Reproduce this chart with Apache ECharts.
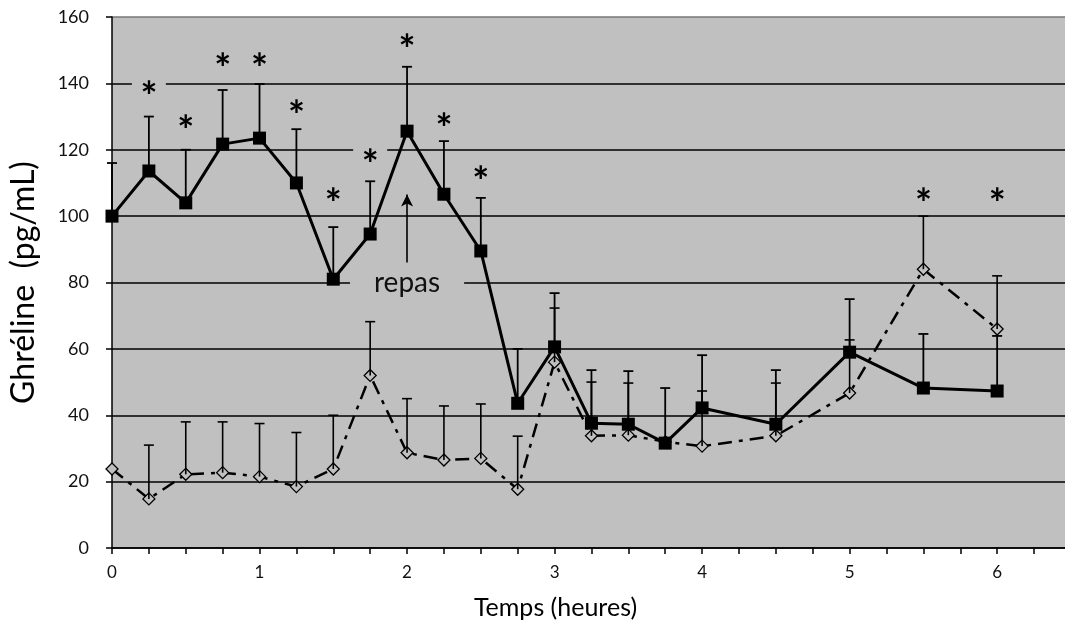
<!DOCTYPE html>
<html>
<head>
<meta charset="utf-8">
<script src="https://cdn.jsdelivr.net/npm/echarts@6/dist/echarts.min.js"></script>
<style>
    html, body { margin: 0; padding: 0; background: #fff; }
    #chart { width: 1065px; height: 630px; }
</style>
</head>
<body>
<div id="chart"></div>
<script>
// --- données ---
const times = [0, 0.25, 0.5, 0.75, 1, 1.25, 1.5, 1.75, 2, 2.25, 2.5, 2.75, 3, 3.25, 3.5, 3.75, 4, 4.5, 5, 5.5, 6];

// courbe pleine (carrés noirs)
const solidValues = [100, 113.6, 104, 121.7, 123.5, 110, 81, 94.6, 125.6, 106.6, 89.5, 43.6, 60.6, 37.6, 37.3, 31.6, 42.2, 37.3, 59, 48.2, 47.3];
const solidErrTop = [116, 130, 120, 138, 139.8, 126.2, 96.7, 110.5, 145, 122.6, 105.5, 60, 76.8, 53.6, 53.3, 48.2, 58.1, 53.6, 75, 64.5, 63.9];

// courbe tiret-point (losanges vides)
const dashValues = [23.8, 14.8, 22.2, 22.7, 21.5, 18.5, 23.8, 52, 28.7, 26.5, 27, 17.7, 56, 33.8, 34, 32, 30.7, 33.8, 46.7, 84, 66];
const dashErrTop = [null, 31, 38, 38, 37.5, 34.8, 40, 68.2, 45, 42.8, 43.4, 33.7, 72.3, 50, 49.7, null, 47.3, 49.7, 62.7, 100, 82];

// astérisques (significativité)
const starTimes = [0.25, 0.5, 0.75, 1, 1.25, 1.5, 1.75, 2, 2.25, 2.5, 5.5, 6];
const starValues = [138.5, 128.3, 147, 147, 133, 106.3, 118, 152.7, 129, 113, 106.3, 106.3];

// repas
const mealTime = 2;
const mealLabelValue = 80;
const mealArrow = [86, 106.5];

const yTicks = [0, 20, 40, 60, 80, 100, 120, 140, 160];
const xLabels = [0, 1, 2, 3, 4, 5, 6];

const plotGrey = '#c0c0c0';
const fontName = 'Lato';

function pairs(xs, ys) {
    return xs.map((x, i) => [x, ys[i]]).filter(p => p[1] != null);
}

function errData(xs, ys, tops) {
    return xs.map((x, i) => [x, ys[i], tops[i]]).filter(p => p[2] != null);
}

function renderErr(width) {
    return function (params, api) {
        const base = api.coord([api.value(0), api.value(1)]);
        const top = api.coord([api.value(0), api.value(2)]);
        const style = { stroke: '#000', lineWidth: width };
        return {
            type: 'group',
            children: [
                { type: 'line', shape: { x1: base[0], y1: base[1], x2: top[0], y2: top[1] }, style: style },
                { type: 'line', shape: { x1: top[0] - 5, y1: top[1], x2: top[0] + 5, y2: top[1] }, style: style }
            ]
        };
    };
}

const chart = echarts.init(document.getElementById('chart'));

const option = {
    animation: false,
    textStyle: { fontFamily: fontName },
    grid: {
        left: 112, right: 0, top: 17, bottom: 82,
        show: true, backgroundColor: plotGrey, borderWidth: 0
    },
    xAxis: {
        type: 'value',
        min: 0,
        max: 6.46,
        interval: 0.25,
        name: 'Temps (heures)',
        nameLocation: 'middle',
        nameGap: 47,
        nameTextStyle: { fontSize: 25, color: '#000', fontFamily: fontName, padding: [0, 66, 0, 0] },
        axisLine: { onZero: false, lineStyle: { color: '#000', width: 1.5 } },
        axisTick: { length: 6, lineStyle: { color: '#000', width: 1.5 } },
        axisLabel: {
            fontSize: 17, color: '#111', margin: 16, showMaxLabel: false,
            formatter: v => xLabels.includes(v) ? String(v) : ''
        },
        splitLine: { show: false }
    },
    yAxis: {
        type: 'value',
        min: yTicks[0],
        max: yTicks[yTicks.length - 1],
        interval: 20,
        name: 'Ghréline  (pg/mL)',
        nameLocation: 'middle',
        nameGap: 72,
        nameTextStyle: { fontSize: 32, color: '#000', fontFamily: fontName },
        axisLine: { show: true, lineStyle: { color: '#000', width: 1.5 } },
        axisTick: { show: true, length: 6, lineStyle: { color: '#000', width: 1.5 } },
        axisLabel: { fontSize: 18, color: '#111', margin: 23 },
        splitLine: {
            show: true,
            lineStyle: {
                color: ['#000', '#000', '#000', '#000', '#000', '#000', '#000', '#000', '#777'],
                width: 1.6
            }
        }
    },
    series: [
        {
            name: 'pointillé',
            type: 'line',
            data: pairs(times, dashValues),
            symbol: 'diamond',
            symbolSize: 12,
            itemStyle: { color: plotGrey, borderColor: '#000', borderWidth: 1.3 },
            lineStyle: { color: '#000', width: 2.5, type: [14, 7, 4, 7] },
            z: 2
        },
        {
            name: 'err pointillé',
            type: 'custom',
            data: errData(times, dashValues, dashErrTop),
            renderItem: renderErr(1.6),
            z: 3
        },
        {
            name: 'err plein',
            type: 'custom',
            data: errData(times, solidValues, solidErrTop),
            renderItem: renderErr(1.8),
            z: 3
        },
        {
            name: 'plein',
            type: 'line',
            data: pairs(times, solidValues),
            symbol: 'rect',
            symbolSize: 13,
            itemStyle: { color: '#000' },
            lineStyle: { color: '#000', width: 3 },
            z: 4,
            markLine: {
                silent: true,
                symbol: ['none', 'arrow'],
                symbolSize: [9, 12],
                label: { show: false },
                lineStyle: { color: '#000', width: 1.6, type: 'solid' },
                data: [[{ coord: [mealTime, mealArrow[0]] }, { coord: [mealTime, mealArrow[1]] }]]
            }
        },
        {
            name: 'repas',
            type: 'scatter',
            data: [[mealTime, mealLabelValue]],
            symbolSize: 0,
            itemStyle: { opacity: 1 },
            z: 1,
            label: {
                show: true,
                position: 'inside',
                formatter: 'repas',
                fontSize: 28,
                color: '#111',
                fontFamily: fontName,
                backgroundColor: plotGrey,
                padding: [0, 24]
            }
        },
        {
            // fonds gris derrière les astérisques (masquent le quadrillage)
            name: 'fonds étoiles',
            type: 'scatter',
            data: pairs(starTimes, starValues),
            symbol: 'rect',
            symbolSize: [34, 24],
            itemStyle: { color: plotGrey, opacity: 1 },
            z: 1
        },
        {
            name: 'étoiles',
            type: 'scatter',
            data: pairs(starTimes, starValues),
            symbolSize: 0,
            itemStyle: { opacity: 1 },
            z: 5,
            label: {
                show: true,
                position: 'inside',
                formatter: '*',
                fontSize: 40,
                fontWeight: 'bold',
                lineHeight: 40,
                color: '#000',
                fontFamily: fontName,
                offset: [0, 10]
            }
        }
    ]
};

chart.setOption(option);
</script>
</body>
</html>
